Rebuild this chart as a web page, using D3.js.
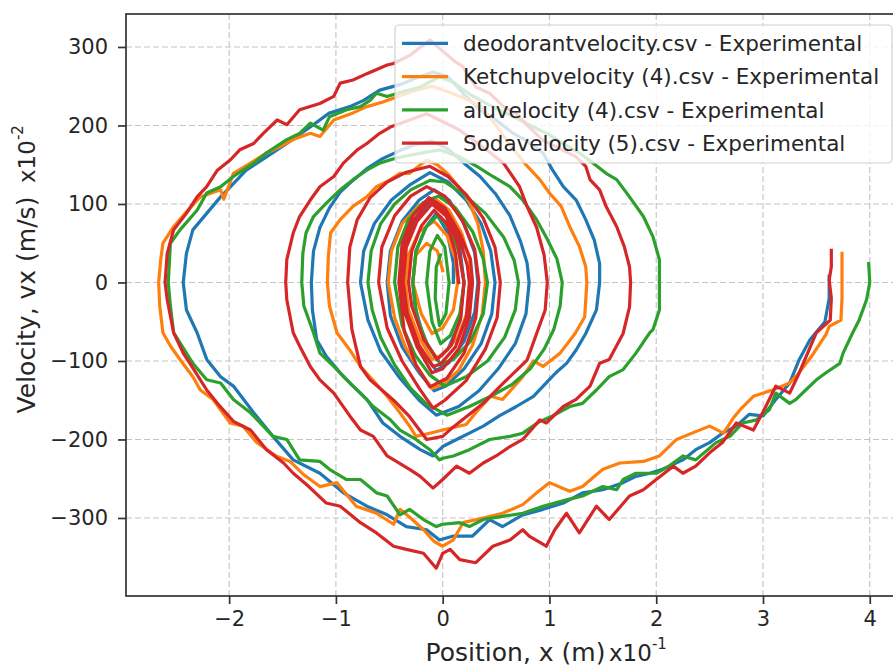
<!DOCTYPE html>
<html>
<head>
<meta charset="utf-8">
<script src="https://cdn.jsdelivr.net/npm/d3@7"></script>
<style>
  body { margin: 0; background: #fff; }
  svg { display: block; font-family: "DejaVu Sans", sans-serif; }
</style>
</head>
<body>
<script>
// Series: [position x10^-1 m, velocity x10^-2 m/s]
const seriesNames = [
    "deodorantvelocity.csv - Experimental",
    "Ketchupvelocity (4).csv - Experimental",
    "aluvelocity (4).csv - Experimental",
    "Sodavelocity (5).csv - Experimental"
];
const seriesColors = ["#1f77b4", "#ff7f0e", "#2ca02c", "#d62728"];

const deodorant = [
    [3.62, 8], [3.62, -20], [3.58, -50], [3.44, -73], [3.34, -98], [3.25, -128], [3.12, -149], [3.00, -170],
    [2.87, -168], [2.75, -183], [2.62, -192], [2.50, -204], [2.37, -213], [2.25, -226], [2.06, -238], [1.94, -243],
    [1.81, -247], [1.69, -255], [1.50, -264], [1.31, -268], [1.13, -281], [0.94, -289], [0.75, -296], [0.56, -311],
    [0.44, -302], [0.28, -323], [0.10, -323], [-0.03, -328], [-0.15, -315], [-0.34, -311], [-0.52, -296], [-0.71, -285],
    [-0.93, -268], [-1.15, -243], [-1.40, -226], [-1.59, -196], [-1.77, -166], [-1.96, -132], [-2.08, -120], [-2.21, -98],
    [-2.30, -64], [-2.40, -35], [-2.43, 0], [-2.40, 37], [-2.34, 67], [-2.21, 88], [-2.08, 109], [-1.96, 126],
    [-1.84, 143], [-1.65, 160], [-1.46, 177], [-1.24, 198], [-1.06, 216], [-0.87, 224], [-0.74, 232], [-0.59, 245],
    [-0.40, 252], [-0.22, 262], [-0.09, 268], [0.05, 262], [0.19, 241], [0.35, 220], [0.50, 207], [0.66, 190],
    [0.78, 181], [0.94, 165], [1.03, 143], [1.13, 122], [1.25, 105], [1.34, 80], [1.42, 54], [1.47, 24],
    [1.47, 0], [1.44, -35], [1.34, -65], [1.25, -86], [1.16, -103], [1.06, -115], [0.97, -128], [0.85, -145],
    [0.69, -158], [0.53, -170], [0.38, -183], [0.25, -192], [0.13, -200], [0.00, -209], [-0.09, -221], [-0.21, -213],
    [-0.40, -196], [-0.56, -179], [-0.71, -149], [-0.84, -132], [-0.96, -115], [-1.09, -94], [-1.18, -73], [-1.22, -35],
    [-1.23, 0], [-1.21, 40], [-1.15, 70], [-1.06, 95], [-0.96, 115], [-0.84, 130], [-0.71, 145], [-0.56, 158],
    [-0.40, 168], [-0.25, 176], [-0.10, 180], [0.05, 170], [0.20, 152], [0.35, 135], [0.50, 112], [0.63, 85],
    [0.73, 52], [0.79, 25], [0.81, 0], [0.78, -40], [0.68, -78], [0.52, -110], [0.34, -138], [0.15, -158],
    [-0.06, -169], [-0.22, -150], [-0.40, -122], [-0.58, -88], [-0.70, -48], [-0.77, 0], [-0.74, 40], [-0.64, 75],
    [-0.48, 105], [-0.30, 125], [-0.12, 140], [0.05, 128], [0.22, 105], [0.36, 75], [0.45, 40], [0.49, 0],
    [0.46, -40], [0.36, -78], [0.20, -110], [0.03, -132], [-0.08, -138], [-0.22, -115], [-0.38, -82], [-0.49, -42],
    [-0.52, 0], [-0.49, 40], [-0.38, 78], [-0.22, 105], [-0.08, 118], [0.06, 105], [0.20, 75], [0.30, 38],
    [0.33, 0], [0.30, -38], [0.20, -75], [0.06, -102], [-0.06, -112], [-0.20, -88], [-0.32, -50], [-0.38, 0],
    [-0.35, 45], [-0.25, 80], [-0.10, 102], [0.04, 90], [0.15, 55], [0.20, 0], [0.16, -50], [0.05, -85],
    [-0.06, -98], [-0.18, -70], [-0.26, -30], [-0.28, 0], [-0.25, 40], [-0.15, 72], [-0.06, 88], [0.04, 65],
    [0.10, 25], [0.10, 0]
];

const ketchup = [
    [3.74, 37], [3.74, 10], [3.74, -20], [3.73, -48], [3.62, -56], [3.59, -66], [3.45, -95], [3.32, -118],
    [3.25, -128], [3.09, -137], [2.91, -145], [2.80, -160], [2.72, -173], [2.63, -192], [2.50, -183], [2.37, -190],
    [2.19, -200], [2.03, -221], [1.88, -228], [1.66, -230], [1.50, -238], [1.31, -260], [1.19, -266], [1.00, -255],
    [0.88, -268], [0.75, -283], [0.56, -294], [0.38, -300], [0.19, -306], [0.10, -328], [0.00, -336], [-0.08, -330],
    [-0.18, -315], [-0.30, -300], [-0.40, -289], [-0.46, -308], [-0.62, -294], [-0.81, -285], [-0.99, -255], [-1.15, -260],
    [-1.30, -245], [-1.43, -228], [-1.56, -221], [-1.74, -204], [-1.87, -183], [-1.99, -179], [-2.15, -149], [-2.27, -137],
    [-2.34, -120], [-2.45, -100], [-2.55, -81], [-2.62, -64], [-2.65, -30], [-2.66, 0], [-2.64, 30], [-2.62, 50],
    [-2.52, 71], [-2.40, 90], [-2.27, 109], [-2.08, 118], [-2.05, 106], [-1.96, 139], [-1.80, 152], [-1.65, 165],
    [-1.52, 173], [-1.40, 182], [-1.24, 190], [-1.15, 186], [-1.02, 207], [-0.84, 216], [-0.71, 224], [-0.56, 230],
    [-0.40, 238], [-0.25, 245], [-0.10, 250], [0.05, 243], [0.20, 235], [0.35, 225], [0.50, 200], [0.65, 172],
    [0.78, 150], [0.91, 131], [1.00, 114], [1.11, 97], [1.19, 71], [1.28, 46], [1.34, 20], [1.35, 0],
    [1.33, -44], [1.24, -65], [1.10, -90], [0.94, -107], [0.85, -100], [0.75, -120], [0.62, -140], [0.56, -149],
    [0.45, -145], [0.31, -166], [0.22, -181], [0.00, -188], [-0.12, -192], [-0.25, -196], [-0.31, -183], [-0.40, -166],
    [-0.52, -145], [-0.65, -125], [-0.77, -107], [-0.87, -86], [-0.99, -64], [-1.06, -30], [-1.08, 0], [-1.07, 35],
    [-1.05, 63], [-0.96, 80], [-0.84, 97], [-0.71, 109], [-0.62, 122], [-0.50, 130], [-0.40, 139], [-0.31, 139],
    [-0.15, 156], [-0.05, 150], [0.05, 138], [0.15, 122], [0.25, 102], [0.33, 75], [0.38, 40], [0.40, 0],
    [0.37, -40], [0.28, -80], [0.15, -112], [0.00, -130], [-0.10, -135], [-0.22, -112], [-0.35, -82], [-0.45, -45],
    [-0.51, 0], [-0.48, 40], [-0.38, 75], [-0.22, 98], [-0.08, 108], [0.06, 92], [0.18, 62], [0.25, 30],
    [0.27, 0], [0.24, -35], [0.14, -70], [0.00, -92], [-0.10, -98], [-0.22, -70], [-0.32, -35], [-0.35, 0],
    [-0.32, 35], [-0.22, 65], [-0.08, 78], [0.04, 60], [0.12, 30], [0.14, 0], [0.10, -35], [0.00, -58],
    [-0.10, -65], [-0.20, -40], [-0.28, 0], [-0.25, 35], [-0.15, 50], [-0.05, 40], [0.00, 15]
];

const alu = [
    [3.99, 24], [4.00, 0], [3.97, -22], [3.90, -48], [3.84, -64], [3.75, -90], [3.72, -103], [3.59, -115],
    [3.50, -124], [3.40, -137], [3.31, -149], [3.25, -154], [3.12, -141], [3.06, -162], [2.94, -175], [2.81, -179],
    [2.69, -196], [2.56, -204], [2.37, -226], [2.25, -221], [2.12, -234], [2.00, -243], [1.81, -243], [1.69, -251],
    [1.63, -264], [1.50, -260], [1.31, -272], [1.16, -277], [0.94, -285], [0.75, -294], [0.56, -298], [0.38, -302],
    [0.25, -311], [0.16, -306], [0.00, -308], [-0.06, -311], [-0.18, -302], [-0.31, -289], [-0.40, -296], [-0.52, -272],
    [-0.62, -268], [-0.77, -251], [-0.90, -251], [-1.06, -238], [-1.15, -228], [-1.34, -226], [-1.46, -200], [-1.59, -196],
    [-1.68, -183], [-1.80, -166], [-1.96, -149], [-2.08, -128], [-2.21, -124], [-2.34, -103], [-2.46, -77], [-2.52, -64],
    [-2.55, -30], [-2.57, 0], [-2.55, 50], [-2.46, 67], [-2.30, 92], [-2.21, 114], [-2.08, 122], [-1.96, 135],
    [-1.77, 152], [-1.65, 165], [-1.46, 182], [-1.34, 190], [-1.24, 203], [-1.12, 194], [-1.06, 211], [-0.90, 220],
    [-0.77, 224], [-0.68, 232], [-0.62, 241], [-0.52, 237], [-0.40, 242], [-0.21, 249], [-0.03, 262], [0.10, 255],
    [0.25, 240], [0.45, 225], [0.65, 212], [0.85, 198], [1.00, 188], [1.13, 177], [1.28, 165], [1.41, 152],
    [1.53, 139], [1.63, 131], [1.75, 109], [1.88, 84], [1.97, 58], [2.03, 29], [2.03, 0], [2.03, -35],
    [1.97, -60], [1.94, -64], [1.81, -90], [1.69, -111], [1.56, -120], [1.44, -137], [1.31, -154], [1.19, -158],
    [1.03, -170], [0.91, -177], [0.75, -192], [0.63, -196], [0.44, -200], [0.25, -213], [0.10, -221], [0.00, -224],
    [-0.03, -226], [-0.12, -213], [-0.25, -200], [-0.40, -188], [-0.49, -175], [-0.65, -158], [-0.77, -141], [-0.90, -124],
    [-1.02, -107], [-1.15, -90], [-1.21, -64], [-1.30, -30], [-1.32, 0], [-1.31, 37], [-1.28, 63], [-1.21, 84],
    [-1.09, 101], [-0.96, 118], [-0.84, 131], [-0.71, 143], [-0.59, 152], [-0.45, 158], [-0.31, 162], [-0.15, 166],
    [-0.03, 169], [0.16, 160], [0.32, 148], [0.47, 135], [0.63, 122], [0.75, 105], [0.88, 80], [0.98, 55],
    [1.07, 30], [1.12, 0], [1.10, -30], [1.04, -60], [0.95, -85], [0.82, -110], [0.65, -130], [0.45, -145],
    [0.25, -158], [0.04, -169], [-0.15, -155], [-0.30, -135], [-0.45, -105], [-0.58, -70], [-0.66, -35], [-0.70, 0],
    [-0.67, 40], [-0.58, 75], [-0.45, 100], [-0.30, 118], [-0.12, 130], [0.02, 128], [0.20, 112], [0.40, 88],
    [0.57, 58], [0.67, 28], [0.71, 0], [0.68, -35], [0.58, -70], [0.42, -100], [0.22, -120], [0.02, -132],
    [-0.12, -118], [-0.26, -92], [-0.38, -55], [-0.45, 0], [-0.42, 45], [-0.32, 80], [-0.18, 102], [-0.04, 110],
    [0.12, 95], [0.28, 65], [0.38, 30], [0.42, 0], [0.38, -40], [0.26, -75], [0.10, -98], [-0.02, -104],
    [-0.14, -80], [-0.24, -45], [-0.28, 0], [-0.25, 40], [-0.16, 70], [-0.05, 85], [0.06, 70], [0.15, 40],
    [0.20, 0], [0.16, -40], [0.07, -68], [-0.02, -78], [-0.10, -50], [-0.15, 0], [-0.12, 40], [-0.05, 60],
    [0.02, 45], [0.06, 0], [0.03, -40], [-0.03, -55], [-0.07, -20], [-0.06, 20], [-0.02, 35]
];

const soda = [
    [3.64, 41], [3.64, 20], [3.62, 3], [3.64, -20], [3.63, -48], [3.50, -64], [3.34, -115], [3.25, -141],
    [3.12, -132], [3.00, -165], [2.91, -188], [2.75, -179], [2.62, -204], [2.50, -217], [2.37, -234], [2.25, -243],
    [2.16, -234], [2.00, -251], [1.88, -264], [1.75, -272], [1.56, -302], [1.44, -285], [1.28, -319], [1.16, -294],
    [1.05, -315], [0.97, -336], [0.81, -323], [0.75, -315], [0.63, -328], [0.47, -336], [0.31, -357], [0.16, -353],
    [0.07, -340], [0.00, -345], [-0.06, -364], [-0.18, -345], [-0.34, -340], [-0.46, -336], [-0.62, -319], [-0.77, -306],
    [-0.96, -285], [-1.09, -281], [-1.27, -258], [-1.40, -243], [-1.49, -230], [-1.65, -213], [-1.80, -188], [-1.96, -177],
    [-2.11, -154], [-2.21, -137], [-2.33, -111], [-2.43, -90], [-2.52, -64], [-2.58, -22], [-2.60, 0], [-2.58, 37],
    [-2.52, 67], [-2.40, 88], [-2.30, 109], [-2.21, 122], [-2.11, 143], [-1.99, 156], [-1.90, 169], [-1.77, 177],
    [-1.68, 190], [-1.55, 207], [-1.46, 201], [-1.34, 220], [-1.15, 228], [-1.02, 237], [-0.96, 254], [-0.84, 258],
    [-0.71, 266], [-0.52, 277], [-0.46, 279], [-0.30, 290], [-0.12, 309], [0.10, 283], [0.19, 275], [0.31, 249],
    [0.44, 241], [0.57, 224], [0.69, 215], [0.81, 198], [0.94, 181], [1.06, 173], [1.25, 160], [1.34, 148],
    [1.38, 131], [1.47, 118], [1.53, 97], [1.63, 71], [1.70, 46], [1.75, 20], [1.76, 0], [1.75, -31],
    [1.69, -65], [1.56, -98], [1.47, -103], [1.38, -132], [1.25, -149], [1.13, -158], [0.97, -179], [0.91, -175],
    [0.75, -200], [0.63, -209], [0.50, -221], [0.38, -230], [0.25, -243], [0.13, -234], [0.00, -251], [-0.09, -262],
    [-0.21, -247], [-0.31, -238], [-0.52, -221], [-0.65, -196], [-0.77, -188], [-0.87, -170], [-1.02, -141], [-1.15, -124],
    [-1.24, -107], [-1.34, -81], [-1.40, -64], [-1.46, -22], [-1.47, 0], [-1.46, 29], [-1.40, 63], [-1.34, 84],
    [-1.24, 105], [-1.15, 122], [-1.02, 135], [-0.93, 152], [-0.80, 169], [-0.71, 177], [-0.59, 190], [-0.49, 198],
    [-0.31, 207], [-0.15, 215], [-0.03, 207], [0.16, 194], [0.29, 181], [0.41, 169], [0.57, 152], [0.72, 122],
    [0.79, 97], [0.88, 70], [0.95, 35], [0.98, 0], [0.96, -35], [0.88, -65], [0.79, -99], [0.57, -128],
    [0.38, -154], [0.10, -184], [0.00, -196], [-0.15, -200], [-0.31, -171], [-0.46, -150], [-0.68, -124], [-0.77, -107],
    [-0.85, -60], [-0.89, 0], [-0.87, 45], [-0.80, 80], [-0.68, 108], [-0.52, 128], [-0.35, 140], [-0.12, 148],
    [0.05, 135], [0.22, 112], [0.38, 82], [0.49, 45], [0.54, 0], [0.51, -45], [0.40, -85], [0.22, -125],
    [0.02, -150], [-0.09, -160], [-0.22, -135], [-0.38, -100], [-0.52, -58], [-0.60, 0], [-0.57, 45], [-0.45, 85],
    [-0.30, 110], [-0.15, 122], [0.02, 110], [0.18, 80], [0.30, 42], [0.34, 0], [0.31, -45], [0.20, -90],
    [0.04, -122], [-0.12, -133], [-0.25, -105], [-0.36, -62], [-0.41, 0], [-0.38, 50], [-0.28, 85], [-0.13, 108],
    [0.02, 95], [0.16, 62], [0.26, 30], [0.28, 0], [0.25, -45], [0.15, -85], [0.00, -110], [-0.10, -115],
    [-0.24, -82], [-0.35, -40], [-0.40, 0], [-0.37, 45], [-0.27, 80], [-0.12, 104], [0.03, 90], [0.16, 55],
    [0.23, 22], [0.25, 0], [0.22, -45], [0.12, -82], [-0.02, -104], [-0.09, -107], [-0.22, -80], [-0.33, -40],
    [-0.37, 0], [-0.34, 45], [-0.24, 78], [-0.10, 100], [0.03, 85], [0.14, 50], [0.20, 0], [0.17, -45],
    [0.08, -80], [-0.05, -98], [-0.18, -72], [-0.29, -30], [-0.32, 0], [-0.29, 40], [-0.20, 72], [-0.08, 92],
    [0.04, 75], [0.12, 38], [0.15, 0]
];

const xTicks = [-2, -1, 0, 1, 2, 3, 4];
const yTicks = [-300, -200, -100, 0, 100, 200, 300];

const allSeries = [deodorant, ketchup, alu, soda];

// Dimensions (right spine sits just past the window edge, like the source crop)
const width = 893;
const height = 666;
const plot = { left: 126, top: 14, right: 905, bottom: 596 };

const xScale = d3.scaleLinear().domain([-2.966, 4.33]).range([plot.left, plot.right]);
const yScale = d3.scaleLinear().domain([-399.4, 342]).range([plot.bottom, plot.top]);

const svg = d3.select("body")
    .append("svg")
    .attr("width", width)
    .attr("height", height);

const fmt = d => d < 0 ? "\u2212" + Math.abs(d) : String(d);

// Grid
const grid = svg.append("g")
    .attr("stroke", "#b0b0b0")
    .attr("stroke-width", 1.1)
    .attr("stroke-dasharray", "6,3")
    .attr("opacity", 0.75);

grid.selectAll(".vgrid")
    .data(xTicks)
    .enter()
    .append("line")
    .attr("x1", d => xScale(d))
    .attr("x2", d => xScale(d))
    .attr("y1", plot.top)
    .attr("y2", plot.bottom);

grid.selectAll(".hgrid")
    .data(yTicks)
    .enter()
    .append("line")
    .attr("x1", plot.left)
    .attr("x2", plot.right)
    .attr("y1", d => yScale(d))
    .attr("y2", d => yScale(d));

svg.append("clipPath")
    .attr("id", "clip")
    .append("rect")
    .attr("x", plot.left)
    .attr("y", plot.top)
    .attr("width", plot.right - plot.left)
    .attr("height", plot.bottom - plot.top);

const line = d3.line()
    .x(d => xScale(d[0]))
    .y(d => yScale(d[1]));

svg.append("g")
    .attr("clip-path", "url(#clip)")
    .selectAll("path")
    .data(allSeries)
    .enter()
    .append("path")
    .attr("d", line)
    .attr("fill", "none")
    .attr("stroke", (d, i) => seriesColors[i])
    .attr("stroke-width", 3.2)
    .attr("stroke-linejoin", "round")
    .attr("stroke-linecap", "square");

// Axes
const xAxis = d3.axisBottom(xScale)
    .tickValues(xTicks)
    .tickFormat(fmt)
    .tickSizeInner(8)
    .tickSizeOuter(0)
    .tickPadding(7);

const yAxis = d3.axisLeft(yScale)
    .tickValues(yTicks)
    .tickFormat(fmt)
    .tickSizeInner(8)
    .tickSizeOuter(0)
    .tickPadding(10);

const xAxisGroup = svg.append("g")
    .attr("transform", `translate(0, ${plot.bottom})`)
    .call(xAxis);

const yAxisGroup = svg.append("g")
    .attr("transform", `translate(${plot.left}, 0)`)
    .call(yAxis);

[xAxisGroup, yAxisGroup].forEach(g => {
    g.select(".domain").remove();
    g.selectAll(".tick line").attr("stroke", "#333").attr("stroke-width", 1.7);
    g.selectAll(".tick text")
        .attr("fill", "#262626")
        .style("font-family", "'DejaVu Sans', sans-serif")
        .style("font-size", "21px");
});

// Spines
svg.append("rect")
    .attr("x", plot.left)
    .attr("y", plot.top)
    .attr("width", plot.right - plot.left)
    .attr("height", plot.bottom - plot.top)
    .attr("fill", "none")
    .attr("stroke", "#333")
    .attr("stroke-width", 1.7);

// Axis labels
svg.append("text")
    .attr("x", (plot.left + plot.right) / 2)
    .attr("y", 661)
    .attr("text-anchor", "middle")
    .attr("fill", "#262626")
    .style("font-size", "25px")
    .text("Position, x (m)");

const xExp = svg.append("text")
    .attr("x", 609)
    .attr("y", 661)
    .attr("fill", "#262626")
    .style("font-size", "23px");
xExp.append("tspan").text("x10");
xExp.append("tspan").attr("dy", -12).style("font-size", "15px").text("-1");

svg.append("text")
    .attr("transform", `translate(35, ${(plot.top + plot.bottom) / 2}) rotate(-90)`)
    .attr("text-anchor", "middle")
    .attr("fill", "#262626")
    .style("font-size", "25px")
    .text("Velocity, vx (m/s)");

const yExp = svg.append("text")
    .attr("transform", "translate(35, 183) rotate(-90)")
    .attr("fill", "#262626")
    .style("font-size", "23px");
yExp.append("tspan").text("x10");
yExp.append("tspan").attr("dy", -12).style("font-size", "15px").text("-2");

// Legend
const legend = svg.append("g");

legend.append("rect")
    .attr("x", 395)
    .attr("y", 25)
    .attr("width", 497)
    .attr("height", 138)
    .attr("rx", 4)
    .attr("fill", "#fff")
    .attr("fill-opacity", 0.8)
    .attr("stroke", "#d0d0d0")
    .attr("stroke-width", 1.2);

const rows = legend.selectAll(".row")
    .data(seriesNames)
    .enter()
    .append("g")
    .attr("transform", (d, i) => `translate(0, ${43.3 + i * 33.3})`);

rows.append("line")
    .attr("x1", 402)
    .attr("x2", 448)
    .attr("stroke", (d, i) => seriesColors[i])
    .attr("stroke-width", 3.2);

rows.append("text")
    .attr("x", 463)
    .attr("y", 7.8)
    .attr("fill", "#262626")
    .style("font-size", "21.5px")
    .text(d => d);
</script>
</body>
</html>
